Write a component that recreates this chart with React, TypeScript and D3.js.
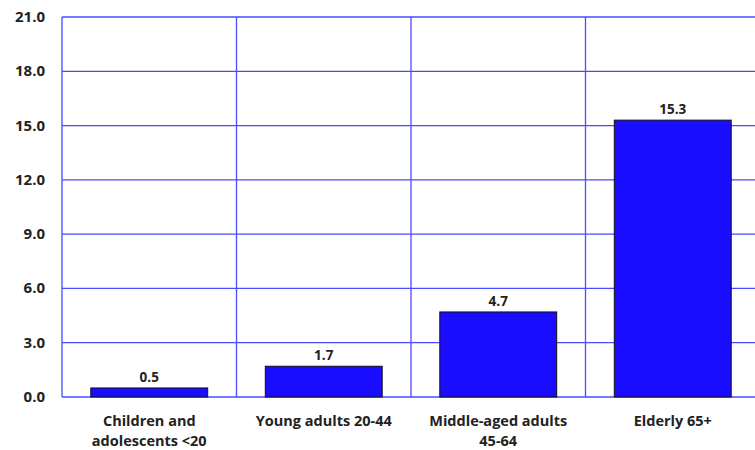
import React from "react";
import * as d3 from "d3";

const categories = [
  ["Children and", "adolescents <20"],
  ["Young adults 20-44"],
  ["Middle-aged adults", "45-64"],
  ["Elderly 65+"],
];
const values = [0.5, 1.7, 4.7, 15.3];
const yTicks = [0, 3, 6, 9, 12, 15, 18, 21];

const W = 755;
const H = 450;
const left = 62;
const top = 17;
const bottom = 397;
const right = 760;
const font = "'Open Sans', sans-serif";
const gridColor = "#4a4aff";

export default function App() {
  const keys = categories.map((c, i) => String(i));
  const x = d3.scaleBand<string>().domain(keys).range([left, right]).paddingInner(0.33).paddingOuter(0.165);
  const band = d3.scaleBand<string>().domain(keys).range([left, right]);
  const y = d3.scaleLinear().domain([0, 21]).range([bottom, top]);

  return (
    <svg width={W} height={H} style={{ position: "absolute", left: 0, top: 0 }}>
      <rect width={W} height={H} fill="#fff" />
      {yTicks.map((t) => (
        <line key={"h" + t} x1={left} x2={right} y1={y(t)} y2={y(t)} stroke={gridColor} strokeWidth={1.3} />
      ))}
      {keys.map((k) => (
        <line key={"v" + k} x1={band(k)!} x2={band(k)!} y1={top} y2={bottom} stroke={gridColor} strokeWidth={1.3} />
      ))}
      {values.map((v, i) => (
        <rect
          key={"b" + i}
          x={x(keys[i])!}
          y={y(v)}
          width={x.bandwidth()}
          height={bottom - y(v)}
          fill="#1a0dff"
          stroke="#111"
          strokeWidth={1}
        />
      ))}
      {values.map((v, i) => (
        <text
          key={"l" + i}
          x={x(keys[i])! + x.bandwidth() / 2}
          y={y(v) - 6}
          textAnchor="middle"
          fontFamily={font}
          fontWeight="bold"
          fontSize={13.5}
          fill="#222"
        >
          {v.toFixed(1)}
        </text>
      ))}
      {yTicks.map((t) => (
        <text
          key={"t" + t}
          x={45}
          y={y(t) + 5}
          textAnchor="end"
          fontFamily={font}
          fontWeight="bold"
          fontSize={15}
          fill="#222"
        >
          {t.toFixed(1)}
        </text>
      ))}
      {categories.map((lines, i) => (
        <text
          key={"c" + i}
          x={band(keys[i])! + band.bandwidth() / 2}
          textAnchor="middle"
          fontFamily={font}
          fontWeight="bold"
          fontSize={14.5}
          fill="#222"
        >
          {lines.map((ln, j) => (
            <tspan key={j} x={band(keys[i])! + band.bandwidth() / 2} y={426 + j * 19.5}>
              {ln}
            </tspan>
          ))}
        </text>
      ))}
    </svg>
  );
}
